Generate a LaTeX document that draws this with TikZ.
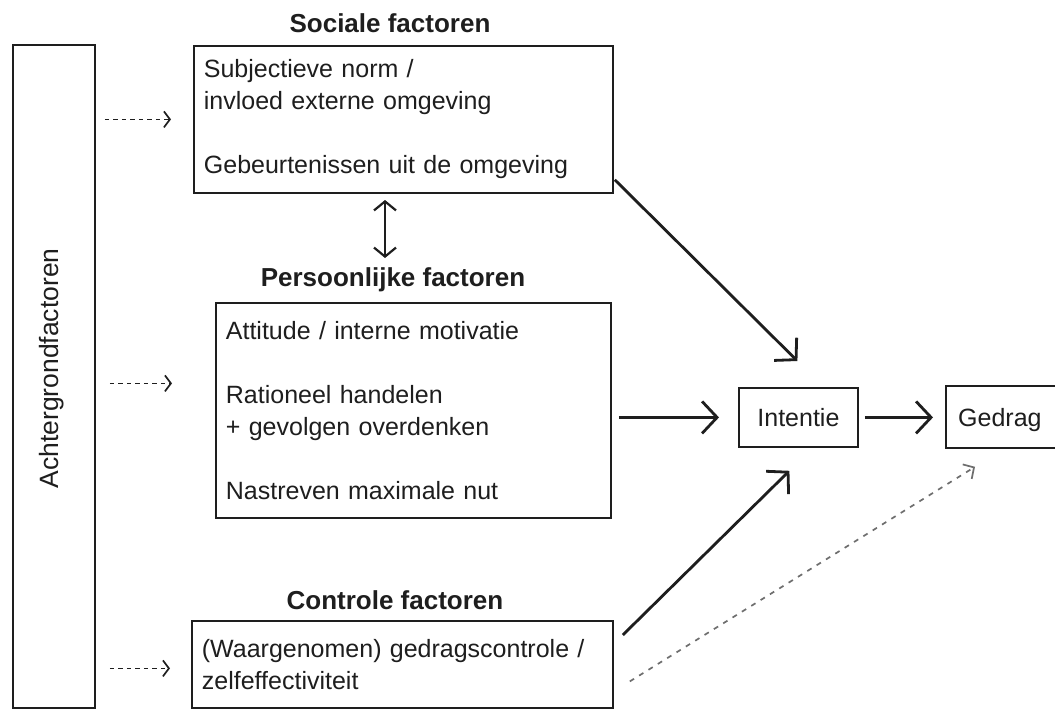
\documentclass[tikz,border=0pt]{standalone}
\usepackage{fontspec}
\setmainfont{Liberation Sans}
\usetikzlibrary{arrows.meta,calc}
\definecolor{ink}{HTML}{1E1E1E}
\definecolor{dashgray}{HTML}{6E6E6E}
\begin{document}
\begin{tikzpicture}[x=1pt,y=-1pt,
  box/.style={draw=ink, line width=1.8pt, anchor=north west, align=left,
    inner xsep=10pt, inner ysep=0pt, font=\fontsize{25}{32}\selectfont, text=ink},
  smallbox/.style={draw=ink, line width=1.8pt, anchor=north west,
    inner ysep=0pt, font=\fontsize{25}{30}\selectfont, text=ink},
  titletext/.style={font=\bfseries\fontsize{26}{30}\selectfont, text=ink, inner sep=0pt},
  bigarrow/.style={draw=ink, line width=2.8pt,
    -{Straight Barb[length=15pt,width=32pt,line width=2.8pt]}},
  smalldash/.style={draw=ink, line width=1.7pt, dash pattern=on 4.5pt off 4pt,
    -{Straight Barb[length=6pt,width=16pt,line width=1.7pt]}},
  graydash/.style={draw=dashgray, line width=1.7pt, dash pattern=on 5pt off 6pt,
    -{Straight Barb[length=8pt,width=17pt,line width=1.7pt]}},
  dblarrow/.style={draw=ink, line width=2.2pt,
    {Straight Barb[length=9pt,width=22pt,line width=2.2pt]}-{Straight Barb[length=9pt,width=22pt,line width=2.2pt]}}
]
\useasboundingbox (0,0) rectangle (1055,709);
\fill[white] (0,0) rectangle (1055,709);

% left background box
\node[draw=ink, line width=1.8pt, anchor=north west, minimum width=82pt, minimum height=663pt, inner sep=0pt] (ach) at (12,44) {};
\node[rotate=90, font=\fontsize{26.5}{30}\selectfont, text=ink] (achtext) at ($(ach.center)+(-2,-8)$) {Achtergrondfactoren};

% titles
\node[titletext] (ts) at (390,23) {Sociale factoren};
\node[titletext] (tp) at (393,280) {Persoonlijke factoren};
\node[titletext] (tc) at (395,600) {Controle factoren};

% boxes
\node[box, text width=399pt, minimum height=147pt] (b1) at (193,45)
  {Subjectieve norm /\\ invloed externe omgeving\\[32pt] Gebeurtenissen uit de omgeving};
\node[box, text width=375pt, minimum height=215pt] (b2) at (215,302)
  {Attitude / interne motivatie\\[32pt] Rationeel handelen\\ + gevolgen overdenken\\[32pt] Nastreven maximale nut};
\node[box, text width=401pt, minimum height=87pt] (b3) at (191,620)
  {(Waargenomen) gedragscontrole /\\ zelfeffectiviteit};

\node[smallbox, inner xsep=0pt, minimum width=119pt, minimum height=59pt, align=center] (int) at (738,387) {Intentie};
\node[smallbox, inner xsep=0pt, minimum width=120pt, minimum height=62pt] (ged) at (945,385) {};
\node[anchor=west, inner sep=0pt, font=\fontsize{25}{30}\selectfont, text=ink] (gedtext) at ($(ged.west)+(13,3)$) {Gedrag};

% dashed arrows from background factors
\draw[smalldash] ($(ach.east |- b1.west)+(9,0)$) -- ($(b1.west)+(-22,0)$);
\draw[smalldash] ($(ach.east |- b2.west)+(14,-27)$) -- ($(b2.west)+(-43,-27)$);
\draw[smalldash] ($(ach.east |- b3.west)+(14,4)$) -- ($(b3.west)+(-21,4)$);

% double arrow between social and personal
\coordinate (d1) at (385,200);
\coordinate (d2) at (385,258);
\draw[dblarrow] (d1) -- (d2);

% main arrows
\draw[bigarrow] ($(b1.south east)+(1,-14)$) -- ($(int.north)+(-1,-26)$);
\draw[bigarrow, shorten <=7pt, shorten >=19pt] (b2.east |- int.west) -- (int.west);
\draw[bigarrow, shorten <=6pt, shorten >=12pt] (int.east) -- (int.east -| ged.west);
\draw[bigarrow] ($(b3.north east)+(9,15)$) -- ($(int.south)+(-9,23)$);
\draw[graydash] ($(b3.east)+(16,17)$) -- ($(ged.south west)+(30,18)$);
\end{tikzpicture}
\end{document}
